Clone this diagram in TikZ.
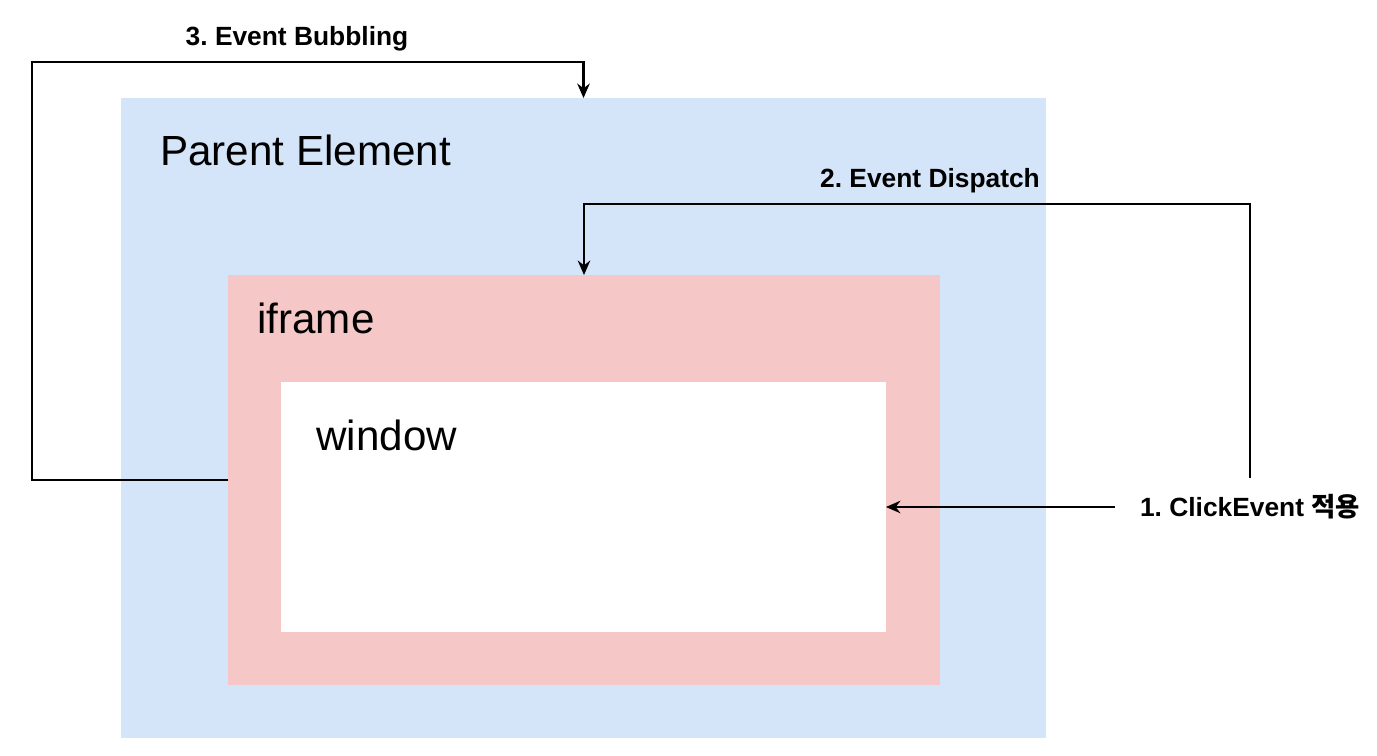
\documentclass[tikz,border=0pt]{standalone}
\usepackage{fontspec}
\setmainfont{Liberation Sans}
\newfontfamily\kofont{Noto Sans CJK KR}
\usepackage{xcolor}
\usetikzlibrary{arrows.meta,positioning}
\frenchspacing
\definecolor{PaleBlue}{HTML}{D4E4F9}
\definecolor{PaleRed}{HTML}{F6C7C7}
\tikzset{
  layer/.style={inner sep=0pt,outer sep=0pt},
  boxtitle/.style={anchor=west,inner sep=0pt,font=\fontsize{24pt}{28pt}\selectfont},
  steplabel/.style={font=\bfseries\fontsize{15pt}{18pt}\selectfont},
  flow/.style={-{Stealth[length=2.9mm,width=2.5mm]},line width=1.2pt,draw=black}
}
\begin{document}
\begin{tikzpicture}[x=0.02cm,y=-0.02cm]
  \useasboundingbox (0,0) rectangle (1377,755);
  \node[layer,fill=PaleBlue,minimum width=18.5cm,minimum height=12.8cm] (parent) at (583.5,418) {};
  \node[layer,fill=PaleRed,minimum width=14.24cm,minimum height=8.2cm] (iframe) at (584,480) {};
  \node[layer,fill=white,minimum width=12.1cm,minimum height=5cm] (window) at (583.5,507) {};
  \node[boxtitle] (parenttxt) at (160,150) {Parent Element};
  \node[boxtitle] (iframetxt) at (257,318) {iframe};
  \node[boxtitle] (windowtxt) at (316,435) {window};
  \node[steplabel,inner xsep=0.5cm,minimum height=1.16cm] (click) at (1250,507) {1. ClickEvent {\kofont 적용}};
  \node[steplabel] (dispatch) at (930,181) {2. Event Dispatch};
  \node[steplabel] (bubbling) at (297,39) {3. Event Bubbling};
  \draw[flow] (click.west) -- (window.east);
  \draw[flow] (click.north) |- ([yshift=1.42cm]iframe.north) -- (iframe.north);
  \draw[flow] (iframe.west) -- ++(-196,0) |- ([yshift=0.72cm]parent.north) -- (parent.north);
\end{tikzpicture}
\end{document}
